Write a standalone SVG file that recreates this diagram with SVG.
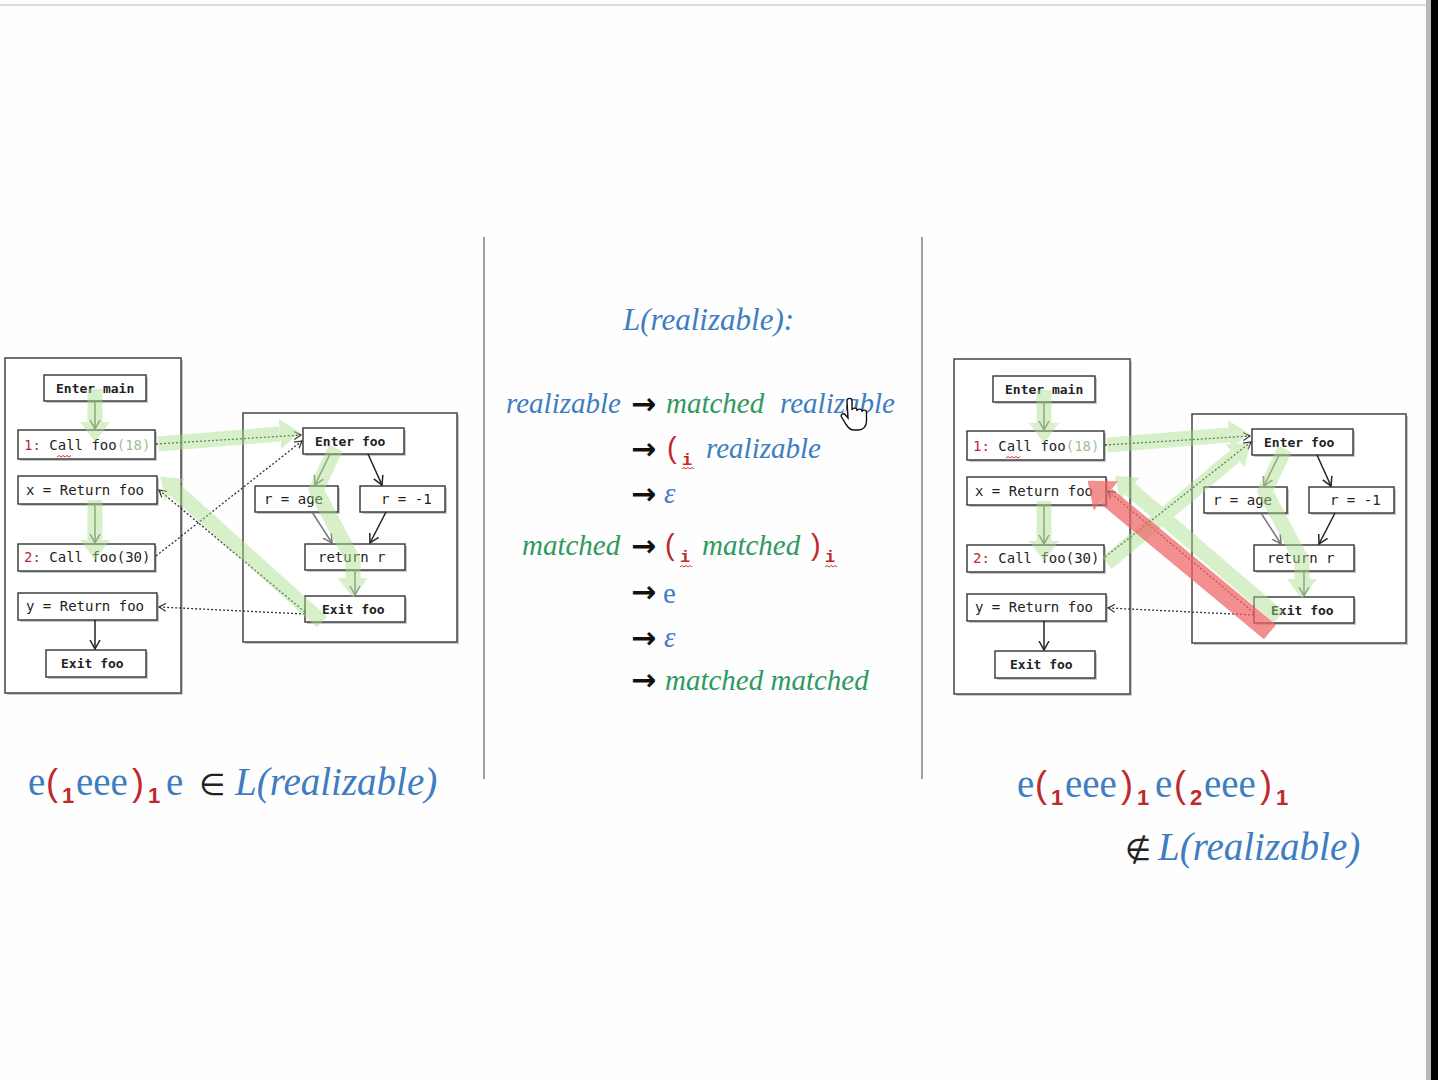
<svg xmlns="http://www.w3.org/2000/svg" width="1438" height="1080" viewBox="0 0 1438 1080">
<style>
.bx{fill:#fff;stroke:#333;stroke-width:1.4}
.sh{fill:#c8c8c8}
.ob{fill:#fff;stroke:#444;stroke-width:1.5}
.t{font-family:"DejaVu Sans Mono","Liberation Mono",monospace;font-size:14px;fill:#222}
.tb{font-family:"DejaVu Sans Mono","Liberation Mono",monospace;font-size:13px;font-weight:bold;fill:#222}
.rd{fill:#c0282d}
.lg{fill:#9fbf90}
.dot{fill:none;stroke:#333;stroke-width:1.3;stroke-dasharray:2 2}
.sol{fill:none;stroke:#222;stroke-width:1.5}
.solg{fill:none;stroke:#777;stroke-width:1.5}
.gr{fill:none;stroke:#a9e08c;stroke-width:15;stroke-linejoin:round}
.red{fill:none;stroke:#f06565;stroke-width:19}
.sq{fill:none;stroke:#d33;stroke-width:1}
.it{font-family:"Liberation Serif","DejaVu Serif",serif;font-style:italic;font-size:29px}
.up{font-family:"Liberation Serif","DejaVu Serif",serif;font-size:29px}
.blue{fill:#3e7dc2}
.green{fill:#2f9960}
.par{font-family:"Liberation Sans","DejaVu Sans",sans-serif;font-size:29px;fill:#c0282d}
.sub{font-family:"Liberation Mono","DejaVu Sans Mono",monospace;font-size:17px;font-weight:bold;fill:#c0282d}
.arr{font-family:"DejaVu Sans",sans-serif;font-size:30px;font-weight:bold;fill:#111}
.big{font-family:"Liberation Serif","DejaVu Serif",serif;font-size:39px}
.bpar{font-family:"Liberation Sans","DejaVu Sans",sans-serif;font-size:36px;fill:#c0282d}
.bsub{font-family:"Liberation Sans","DejaVu Sans",sans-serif;font-size:22px;font-weight:bold;fill:#c0282d}
.sym{font-family:"DejaVu Sans",sans-serif;font-size:30px;fill:#222}
</style>
<defs>
<marker id="mg" viewBox="0 -15 20 30" refX="0" refY="0" markerWidth="20" markerHeight="30" markerUnits="userSpaceOnUse" orient="auto"><path d="M0,-15 L20,0 L0,15 z" fill="#a9e08c"/></marker>
<marker id="mr" viewBox="0 -19 24 38" refX="0" refY="0" markerWidth="24" markerHeight="38" markerUnits="userSpaceOnUse" orient="auto"><path d="M0,-19 L24,0 L0,19 z" fill="#f06565"/></marker>
<marker id="md" viewBox="0 -5 8 10" refX="7" refY="0" markerWidth="8" markerHeight="10" markerUnits="userSpaceOnUse" orient="auto"><path d="M0,-4 L7,0 L0,4" fill="none" stroke="#333" stroke-width="1.2"/></marker>
<marker id="ms" viewBox="0 -6 10 12" refX="9" refY="0" markerWidth="10" markerHeight="12" markerUnits="userSpaceOnUse" orient="auto"><path d="M0,-5 L9,0 L0,5" fill="none" stroke="#222" stroke-width="1.5"/></marker>
<marker id="msg" viewBox="0 -6 10 12" refX="9" refY="0" markerWidth="10" markerHeight="12" markerUnits="userSpaceOnUse" orient="auto"><path d="M0,-5 L9,0 L0,5" fill="none" stroke="#777" stroke-width="1.5"/></marker>
</defs>
<rect x="0" y="0" width="1438" height="1080" fill="#fdfefd"/>
<line x1="0" y1="5" x2="1428" y2="5" stroke="#dcdcdc" stroke-width="2"/>
<rect x="1426" y="0" width="5" height="1080" fill="#b8b8b8"/>
<rect x="1431" y="0" width="7" height="1080" fill="#000"/>
<line x1="484" y1="237" x2="484" y2="779" stroke="#a0a0a0" stroke-width="2"/>
<line x1="922" y1="237" x2="922" y2="779" stroke="#a0a0a0" stroke-width="2"/>

<!-- LEFT DIAGRAM -->
<g id="left">
<g id="L-main-proc"><rect class="sh" x="7" y="360" width="176" height="335"/><rect class="ob" x="5" y="358" width="176" height="335"/></g>
<g id="L-foo-proc"><rect class="sh" x="245" y="415" width="214" height="229"/><rect class="ob" x="243" y="413" width="214" height="229"/></g>
<g id="L-enter-main"><rect class="sh" x="46" y="377" width="102" height="26"/><rect class="bx" x="44" y="375" width="102" height="26"/><text class="tb" x="56" y="393">Enter main</text></g>
<g id="L-call1"><rect class="sh" x="20" y="432" width="137" height="29"/><rect class="bx" x="18" y="430" width="137" height="29"/><text class="t" x="24" y="450"><tspan class="rd">1:</tspan> Call foo<tspan class="lg">(18)</tspan></text><path class="sq" d="M57,457 l2,-1.5 l2,1.5 l2,-1.5 l2,1.5 l2,-1.5 l2,1.5 l2,-1.5"/></g>
<g id="L-ret1"><rect class="sh" x="20" y="478" width="139" height="28"/><rect class="bx" x="18" y="476" width="139" height="28"/><text class="t" x="26" y="495">x = Return foo</text></g>
<g id="L-call2"><rect class="sh" x="20" y="546" width="137" height="27"/><rect class="bx" x="18" y="544" width="137" height="27"/><text class="t" x="24" y="562"><tspan class="rd">2:</tspan> Call foo(30)</text></g>
<g id="L-ret2"><rect class="sh" x="20" y="595" width="139" height="27"/><rect class="bx" x="18" y="593" width="139" height="27"/><text class="t" x="26" y="611">y = Return foo</text></g>
<g id="L-exit-main"><rect class="sh" x="48" y="652" width="100" height="27"/><rect class="bx" x="46" y="650" width="100" height="27"/><text class="tb" x="61" y="668">Exit foo</text></g>
<g id="L-enter-foo"><rect class="sh" x="305" y="430" width="101" height="26"/><rect class="bx" x="303" y="428" width="101" height="26"/><text class="tb" x="315" y="446">Enter foo</text></g>
<g id="L-r-age"><rect class="sh" x="257" y="488" width="83" height="26"/><rect class="bx" x="255" y="486" width="83" height="26"/><text class="t" x="264" y="504">r = age</text></g>
<g id="L-r-neg"><rect class="sh" x="362" y="488" width="85" height="26"/><rect class="bx" x="360" y="486" width="85" height="26"/><text class="t" x="381" y="504">r = -1</text></g>
<g id="L-return-r"><rect class="sh" x="307" y="546" width="100" height="26"/><rect class="bx" x="305" y="544" width="100" height="26"/><text class="t" x="318" y="562">return r</text></g>
<g id="L-exit-foo"><rect class="sh" x="307" y="598" width="100" height="26"/><rect class="bx" x="305" y="596" width="100" height="26"/><text class="tb" x="322" y="614">Exit foo</text></g>
</g>

<!-- RIGHT DIAGRAM -->
<g id="right" transform="translate(949,1)">
<g id="R-main-proc"><rect class="sh" x="7" y="360" width="176" height="335"/><rect class="ob" x="5" y="358" width="176" height="335"/></g>
<g id="R-foo-proc"><rect class="sh" x="245" y="415" width="214" height="229"/><rect class="ob" x="243" y="413" width="214" height="229"/></g>
<g id="R-enter-main"><rect class="sh" x="46" y="377" width="102" height="26"/><rect class="bx" x="44" y="375" width="102" height="26"/><text class="tb" x="56" y="393">Enter main</text></g>
<g id="R-call1"><rect class="sh" x="20" y="432" width="137" height="29"/><rect class="bx" x="18" y="430" width="137" height="29"/><text class="t" x="24" y="450"><tspan class="rd">1:</tspan> Call foo<tspan class="lg">(18)</tspan></text><path class="sq" d="M57,457 l2,-1.5 l2,1.5 l2,-1.5 l2,1.5 l2,-1.5 l2,1.5 l2,-1.5"/></g>
<g id="R-ret1"><rect class="sh" x="20" y="478" width="139" height="28"/><rect class="bx" x="18" y="476" width="139" height="28"/><text class="t" x="26" y="495">x = Return foo</text></g>
<g id="R-call2"><rect class="sh" x="20" y="546" width="137" height="27"/><rect class="bx" x="18" y="544" width="137" height="27"/><text class="t" x="24" y="562"><tspan class="rd">2:</tspan> Call foo(30)</text></g>
<g id="R-ret2"><rect class="sh" x="20" y="595" width="139" height="27"/><rect class="bx" x="18" y="593" width="139" height="27"/><text class="t" x="26" y="611">y = Return foo</text></g>
<g id="R-exit-main"><rect class="sh" x="48" y="652" width="100" height="27"/><rect class="bx" x="46" y="650" width="100" height="27"/><text class="tb" x="61" y="668">Exit foo</text></g>
<g id="R-enter-foo"><rect class="sh" x="305" y="430" width="101" height="26"/><rect class="bx" x="303" y="428" width="101" height="26"/><text class="tb" x="315" y="446">Enter foo</text></g>
<g id="R-r-age"><rect class="sh" x="257" y="488" width="83" height="26"/><rect class="bx" x="255" y="486" width="83" height="26"/><text class="t" x="264" y="504">r = age</text></g>
<g id="R-r-neg"><rect class="sh" x="362" y="488" width="85" height="26"/><rect class="bx" x="360" y="486" width="85" height="26"/><text class="t" x="381" y="504">r = -1</text></g>
<g id="R-return-r"><rect class="sh" x="307" y="546" width="100" height="26"/><rect class="bx" x="305" y="544" width="100" height="26"/><text class="t" x="318" y="562">return r</text></g>
<g id="R-exit-foo"><rect class="sh" x="307" y="598" width="100" height="26"/><rect class="bx" x="305" y="596" width="100" height="26"/><text class="tb" x="322" y="614">Exit foo</text></g>
</g>

<!-- CONNECTORS -->
<g id="connectors">
<g id="L-edges">
<path class="solg" d="M95,401 L95,429" marker-end="url(#msg)"/>
<path class="solg" d="M95,504 L95,543" marker-end="url(#msg)"/>
<path class="sol" d="M95,620 L95,649" marker-end="url(#ms)"/>
<path class="sol" d="M368,454 L382,485" marker-end="url(#ms)"/>
<path class="sol" d="M386,512 L370,543" marker-end="url(#ms)"/>
<path class="solg" d="M330,454 L315,485" marker-end="url(#msg)"/>
<path class="solg" d="M312,512 L332,543" marker-end="url(#msg)"/>
<path class="solg" d="M355,570 L355,595" marker-end="url(#msg)"/>
<path class="dot" d="M156,444 L301,435" marker-end="url(#md)"/>
<path class="dot" d="M156,556 L302,441" marker-end="url(#md)"/>
<path class="dot" d="M305,612 L159,490" marker-end="url(#md)"/>
<path class="dot" d="M305,614 L159,607" marker-end="url(#md)"/>
<g opacity="0.45">
<path class="gr" d="M95,389 L95,422" marker-end="url(#mg)"/>
<path class="gr" d="M158,444 L280,434" marker-end="url(#mg)"/>
<path class="gr" d="M336,448 L316,490 L345,545 L353,560 L353,578" marker-end="url(#mg)"/>
<path class="gr" d="M322,622 L175,490" marker-end="url(#mg)"/>
<path class="gr" d="M95,500 L95,540" marker-end="url(#mg)"/>
</g>
</g>
<g id="R-edges" transform="translate(949,1)">
<path class="solg" d="M95,401 L95,429" marker-end="url(#msg)"/>
<path class="solg" d="M95,504 L95,543" marker-end="url(#msg)"/>
<path class="sol" d="M95,620 L95,649" marker-end="url(#ms)"/>
<path class="sol" d="M368,454 L382,485" marker-end="url(#ms)"/>
<path class="sol" d="M386,512 L370,543" marker-end="url(#ms)"/>
<path class="solg" d="M330,454 L315,485" marker-end="url(#msg)"/>
<path class="solg" d="M312,512 L332,543" marker-end="url(#msg)"/>
<path class="solg" d="M355,570 L355,595" marker-end="url(#msg)"/>
<path class="dot" d="M156,444 L301,435" marker-end="url(#md)"/>
<path class="dot" d="M156,556 L302,441" marker-end="url(#md)"/>
<path class="dot" d="M305,612 L159,490" marker-end="url(#md)"/>
<path class="dot" d="M305,614 L159,607" marker-end="url(#md)"/>
<g opacity="0.45">
<path class="gr" d="M95,389 L95,422" marker-end="url(#mg)"/>
<path class="gr" d="M158,444 L280,434" marker-end="url(#mg)"/>
<path class="gr" d="M336,448 L316,490 L345,545 L353,560 L353,578" marker-end="url(#mg)"/>
<path class="gr" d="M330,616 L181,488" marker-end="url(#mg)"/>
<path class="gr" d="M95,500 L95,540" marker-end="url(#mg)"/>
<path class="gr" d="M158,562 L286,455" marker-end="url(#mg)"/>
</g>
<g opacity="0.72">
<path class="red" d="M321,631 L157,495" marker-end="url(#mr)"/>
</g>
</g>
</g>

<!-- GRAMMAR -->
<g id="grammar">
<text class="it blue" x="623" y="330" style="font-size:31px">L(realizable):</text>
<text class="it blue" x="506" y="413">realizable</text>
<text class="arr" x="631" y="414">→</text>
<text class="it green" x="666" y="413">matched</text>
<text class="it blue" x="780" y="413">realizable</text>

<text class="arr" x="631" y="459">→</text>
<text class="par" x="667" y="458">(</text>
<text class="sub" x="682" y="465">i</text>
<path class="sq" d="M682,469 l2,-1.5 l2,1.5 l2,-1.5 l2,1.5 l2,-1.5 l2,1.5"/>
<text class="it blue" x="706" y="458">realizable</text>

<text class="arr" x="631" y="504">→</text>
<text class="it blue" x="664" y="503">ε</text>

<text class="it green" x="522" y="555">matched</text>
<text class="arr" x="631" y="556">→</text>
<text class="par" x="665" y="555">(</text>
<text class="sub" x="680" y="562">i</text>
<path class="sq" d="M680,567 l2,-1.5 l2,1.5 l2,-1.5 l2,1.5 l2,-1.5 l2,1.5"/>
<text class="it green" x="702" y="555">matched</text>
<text class="par" x="811" y="555">)</text>
<text class="sub" x="825" y="562">i</text>
<path class="sq" d="M825,567 l2,-1.5 l2,1.5 l2,-1.5 l2,1.5 l2,-1.5 l2,1.5"/>

<text class="arr" x="631" y="602">→</text>
<text class="up blue" x="663" y="603">e</text>

<text class="arr" x="631" y="648">→</text>
<text class="it blue" x="664" y="647">ε</text>

<text class="arr" x="631" y="690">→</text>
<text class="it green" x="665" y="690">matched matched</text>
</g>

<!-- cursor -->
<g id="cursor">
<path d="M847,401 c0,-3.5 5,-3.5 5,0 v9 c0,-2.5 5,-2.5 5,0 v1 c0,-2.5 5,-2.5 5,0 v1 c0,-2.5 4.5,-2.5 4.5,0 v9 c0,5 -3,9 -8,9 h-5 c-3,0 -5,-2 -7,-5 l-5,-8 c-1.5,-2.5 2,-4.5 4,-2 l2.5,3 z" fill="#fff" stroke="#111" stroke-width="1.4"/>
</g>

<!-- BOTTOM FORMULAS -->
<g id="formula-left">
<text class="big blue" x="28" y="795">e</text>
<text class="bpar" x="46" y="795">(</text>
<text class="bsub" x="62" y="803">1</text>
<text class="big blue" x="76" y="795">eee</text>
<text class="bpar" x="132" y="795">)</text>
<text class="bsub" x="148" y="803">1</text>
<text class="big blue" x="166" y="795">e</text>
<text class="sym" x="199" y="795">∈</text>
<text class="big it blue" x="235" y="795">L(realizable)</text>
</g>
<g id="formula-right">
<text class="big blue" x="1017" y="797">e</text>
<text class="bpar" x="1035" y="797">(</text>
<text class="bsub" x="1051" y="805">1</text>
<text class="big blue" x="1065" y="797">eee</text>
<text class="bpar" x="1121" y="797">)</text>
<text class="bsub" x="1137" y="805">1</text>
<text class="big blue" x="1155" y="797">e</text>
<text class="bpar" x="1174" y="797">(</text>
<text class="bsub" x="1190" y="805">2</text>
<text class="big blue" x="1204" y="797">eee</text>
<text class="bpar" x="1260" y="797">)</text>
<text class="bsub" x="1276" y="805">1</text>
<text class="sym" x="1125" y="860">∉</text>
<text class="big it blue" x="1158" y="860">L(realizable)</text>
</g>
</svg>
